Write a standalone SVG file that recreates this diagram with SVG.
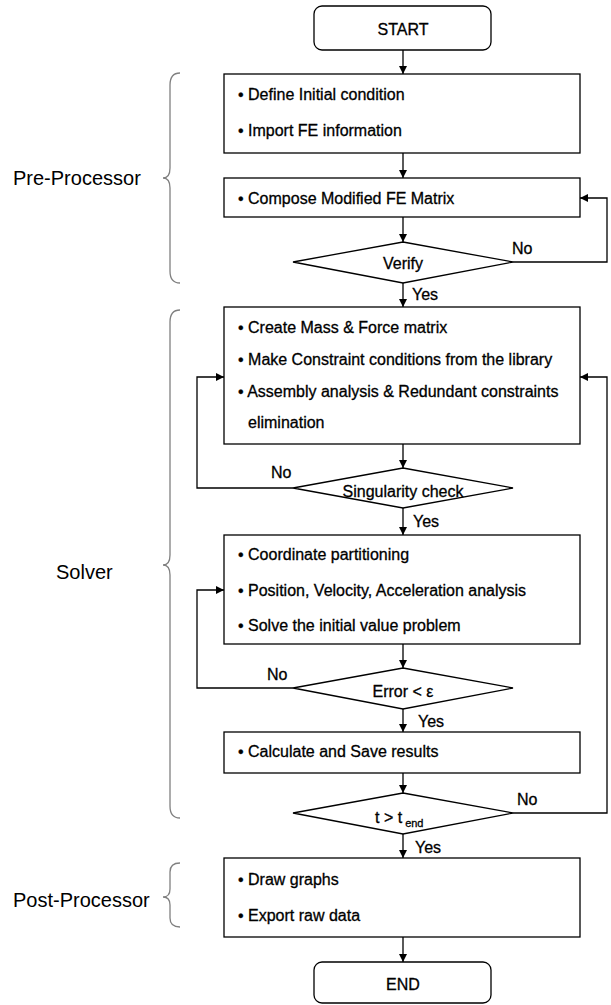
<svg xmlns="http://www.w3.org/2000/svg" width="611" height="1005" viewBox="0 0 611 1005">
<style>
.box{fill:#fff;stroke:#000;stroke-width:1.3}
.t{font-family:"Liberation Sans",Arial,sans-serif;font-size:16px;fill:#000;stroke:#000;stroke-width:0.3}
.c{text-anchor:middle}
.lab{font-family:"Liberation Sans",Arial,sans-serif;font-size:20px;fill:#000}
.ln{fill:none;stroke:#000;stroke-width:1.3}
.br{fill:none;stroke:#808080;stroke-width:1.3}
</style>
<defs>
<marker id="ah" viewBox="0 0 10 10" refX="10" refY="5" markerWidth="9" markerHeight="8" markerUnits="userSpaceOnUse" orient="auto">
<path d="M0,0 L10,5 L0,10 z" fill="#000"/>
</marker>
</defs>
<rect width="611" height="1005" fill="#fff"/>
<g id="braces">
<path class="br" d="M180,73 Q170,73 170,85 L170,168 Q170,178 163,178 Q170,178 170,188 L170,271 Q170,283 180,283"/>
<path class="br" d="M180,310 Q170,310 170,322 L170,555 Q170,565 163,565 Q170,565 170,575 L170,806 Q170,818 180,818"/>
<path class="br" d="M180,863 Q170,863 170,872 L170,889 Q170,897 163,897 Q170,897 170,905 L170,918 Q170,927 180,927"/>
<text class="lab" x="13" y="185">Pre-Processor</text>
<text class="lab" x="56" y="579">Solver</text>
<text class="lab" x="13" y="907">Post-Processor</text>
</g>
<g id="connectors">
<line class="ln" x1="403" y1="50" x2="403" y2="74" marker-end="url(#ah)"/>
<line class="ln" x1="403" y1="153" x2="403" y2="178" marker-end="url(#ah)"/>
<line class="ln" x1="403" y1="217" x2="403" y2="242" marker-end="url(#ah)"/>
<line class="ln" x1="403" y1="283" x2="403" y2="307" marker-end="url(#ah)"/>
<polyline class="ln" points="513,262 607,262 607,198 580,198" marker-end="url(#ah)"/>
<line class="ln" x1="403" y1="444" x2="403" y2="468" marker-end="url(#ah)"/>
<polyline class="ln" points="293,488 197,488 197,377 224,377" marker-end="url(#ah)"/>
<line class="ln" x1="403" y1="508" x2="403" y2="535" marker-end="url(#ah)"/>
<line class="ln" x1="403" y1="644" x2="403" y2="668" marker-end="url(#ah)"/>
<polyline class="ln" points="293,688 197,688 197,590 224,590" marker-end="url(#ah)"/>
<line class="ln" x1="403" y1="709" x2="403" y2="732" marker-end="url(#ah)"/>
<line class="ln" x1="403" y1="773" x2="403" y2="793" marker-end="url(#ah)"/>
<polyline class="ln" points="513,813 607,813 607,377 580,377" marker-end="url(#ah)"/>
<line class="ln" x1="403" y1="834" x2="403" y2="858" marker-end="url(#ah)"/>
<line class="ln" x1="403" y1="937" x2="403" y2="962" marker-end="url(#ah)"/>
<text class="t" x="512" y="254">No</text>
<text class="t" x="412" y="300">Yes</text>
<text class="t" x="271" y="478">No</text>
<text class="t" x="413" y="527">Yes</text>
<text class="t" x="267" y="680">No</text>
<text class="t" x="418" y="727">Yes</text>
<text class="t" x="517" y="805">No</text>
<text class="t" x="415" y="853">Yes</text>
</g>
<g id="start">
<rect class="box" x="314" y="6" width="177" height="44" rx="8"/>
<text class="t c" x="403" y="35">START</text>
</g>
<g id="init">
<rect class="box" x="224" y="74" width="356" height="79"/>
<text class="t" x="238" y="100">• Define Initial condition</text>
<text class="t" x="238" y="136">• Import FE information</text>
</g>
<g id="compose">
<rect class="box" x="224" y="178" width="356" height="39"/>
<text class="t" x="238" y="204">• Compose Modified FE Matrix</text>
</g>
<g id="verify">
<polygon class="box" points="403,242 513,262 403,283 293,262"/>
<text class="t c" x="403" y="269">Verify</text>
</g>
<g id="create">
<rect class="box" x="224" y="307" width="356" height="137"/>
<text class="t" x="238" y="333">• Create Mass &amp; Force matrix</text>
<text class="t" x="238" y="365">• Make Constraint conditions from the library</text>
<text class="t" x="238" y="397">• Assembly analysis &amp; Redundant constraints</text>
<text class="t" x="248" y="428">elimination</text>
</g>
<g id="singularity">
<polygon class="box" points="403,468 513,488 403,508 293,488"/>
<text class="t c" x="403" y="497">Singularity check</text>
</g>
<g id="coord">
<rect class="box" x="224" y="535" width="356" height="109"/>
<text class="t" x="238" y="560">• Coordinate partitioning</text>
<text class="t" x="238" y="596">• Position, Velocity, Acceleration analysis</text>
<text class="t" x="238" y="631">• Solve the initial value problem</text>
</g>
<g id="error">
<polygon class="box" points="403,668 513,688 403,709 293,688"/>
<text class="t c" x="403" y="697">Error &lt; ε</text>
</g>
<g id="save">
<rect class="box" x="224" y="732" width="356" height="41"/>
<text class="t" x="238" y="757">• Calculate and Save results</text>
</g>
<g id="tend">
<polygon class="box" points="403,793 513,813 403,834 293,813"/>
<text class="t" x="375" y="823">t &gt; t<tspan font-size="11" dx="3" dy="4">end</tspan></text>
</g>
<g id="post">
<rect class="box" x="224" y="858" width="356" height="79"/>
<text class="t" x="238" y="885">• Draw graphs</text>
<text class="t" x="238" y="921">• Export raw data</text>
</g>
<g id="end">
<rect class="box" x="314" y="962" width="177" height="41" rx="8"/>
<text class="t c" x="403" y="990">END</text>
</g>
</svg>
